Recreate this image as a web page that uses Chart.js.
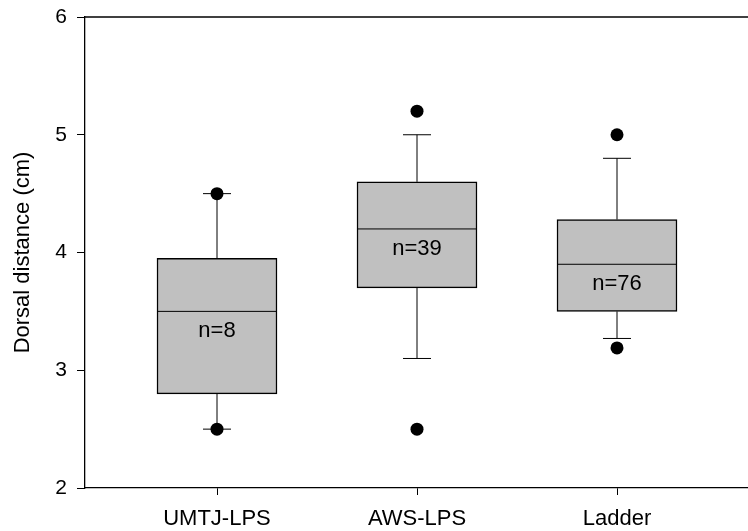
<!doctype html>
<html>

<head>
    <title>Dorsal distance</title>
    <meta http-equiv="Content-Type" content="text/html;charset=UTF-8">
    <script src="https://cdn.jsdelivr.net/npm/chart.js@4/dist/chart.umd.min.js"></script>
    <style>
        body { margin: 0; background: #fff; overflow: hidden; }
        canvas { display: block; }
    </style>
</head>

<body>
    <canvas id="grafico" width="748" height="531"></canvas>
</body>
<script>

    // valores
    var categorias = ['UMTJ-LPS', 'AWS-LPS', 'Ladder'];
    var bigodeInf = [2.5, 3.1, 3.27];
    var q1 = [2.8, 3.7, 3.5];
    var mediana = [3.5, 4.2, 3.9];
    var q3 = [3.95, 4.6, 4.28];
    var bigodeSup = [4.5, 5.0, 4.8];
    var outliers = [[2.5, 4.5], [2.5, 5.2], [3.19, 5.0]];
    var contagens = [8, 39, 76];
    var ticksY = [2, 3, 4, 5, 6];

    Chart.defaults.font.family = "'Liberation Sans', Arial, sans-serif";
    Chart.defaults.font.size = 21;
    Chart.defaults.color = '#000';

    var caixas = categorias.map(function (c, i) {
        return { x: i + 1, y: [q1[i], q3[i]] };
    });

    var pontos = [];
    outliers.forEach(function (lista, i) {
        lista.forEach(function (v) { pontos.push({ x: i + 1, y: v }); });
    });

    var desenhaBox = {
        id: 'desenhaBox',
        afterDatasetDraw: function (chart, args) {
            if (args.index !== 0) return;
            var ctx = chart.ctx;
            var x = chart.scales.x;
            var y = chart.scales.y;
            var meta = chart.getDatasetMeta(0);
            ctx.save();
            ctx.strokeStyle = '#000';
            ctx.lineWidth = 1;
            categorias.forEach(function (c, i) {
                var px = x.getPixelForValue(i + 1);
                var bar = meta.data[i];
                var meio = bar.width / 2;
                var cap = 14;
                ctx.beginPath();
                // mediana
                ctx.moveTo(px - meio, y.getPixelForValue(mediana[i]));
                ctx.lineTo(px + meio, y.getPixelForValue(mediana[i]));
                // bigodes
                ctx.moveTo(px, y.getPixelForValue(q3[i]));
                ctx.lineTo(px, y.getPixelForValue(bigodeSup[i]));
                ctx.moveTo(px, y.getPixelForValue(q1[i]));
                ctx.lineTo(px, y.getPixelForValue(bigodeInf[i]));
                ctx.moveTo(px - cap, y.getPixelForValue(bigodeSup[i]));
                ctx.lineTo(px + cap, y.getPixelForValue(bigodeSup[i]));
                ctx.moveTo(px - cap, y.getPixelForValue(bigodeInf[i]));
                ctx.lineTo(px + cap, y.getPixelForValue(bigodeInf[i]));
                ctx.stroke();

                ctx.fillStyle = '#000';
                ctx.font = "22px 'Liberation Sans', Arial, sans-serif";
                ctx.textAlign = 'center';
                ctx.textBaseline = 'middle';
                ctx.fillText('n=' + contagens[i], px, y.getPixelForValue(mediana[i]) + 20);
            });
            ctx.restore();
        },
        afterDraw: function (chart) {
            var ctx = chart.ctx;
            var a = chart.chartArea;
            ctx.save();
            ctx.strokeStyle = '#000';
            ctx.lineWidth = 1.3;
            ctx.beginPath();
            ctx.moveTo(a.left, a.top);
            ctx.lineTo(a.right, a.top);
            ctx.stroke();
            ctx.restore();
        }
    };

    var grafico = new Chart(document.getElementById('grafico'), {
        type: 'bar',
        data: {
            datasets: [
                {
                    type: 'bar',
                    data: caixas,
                    backgroundColor: '#c0c0c0',
                    borderColor: '#000',
                    borderWidth: 1.5,
                    borderSkipped: false,
                    barThickness: 120,
                    order: 1
                },
                {
                    type: 'scatter',
                    data: pontos,
                    pointRadius: 6.5,
                    pointBackgroundColor: '#000',
                    pointBorderWidth: 0,
                    order: 0
                }
            ]
        },
        options: {
            responsive: false,
            animation: false,
            layout: { autoPadding: false, padding: { top: 17, right: 0, bottom: 0, left: 0 } },
            plugins: {
                legend: { display: false },
                tooltip: { enabled: false }
            },
            scales: {
                x: {
                    type: 'linear',
                    min: 0.34,
                    max: 3.655,
                    offset: false,
                    afterFit: function (s) {
                        s.height = 43;
                        s.paddingLeft = 0;
                        s.paddingRight = 0;
                    },
                    afterBuildTicks: function (s) {
                        s.ticks = categorias.map(function (c, i) { return { value: i + 1 }; });
                    },
                    ticks: {
                        padding: 11,
                        autoSkip: false,
                        maxRotation: 0,
                        font: { size: 22 },
                        callback: function (v) { return categorias[v - 1]; }
                    },
                    grid: { display: true, drawOnChartArea: false, offset: false, color: '#000', tickLength: 7 },
                    border: { display: true, color: '#000', width: 1.3 }
                },
                y: {
                    min: 2,
                    max: 6,
                    afterFit: function (s) {
                        s.width = 85;
                        s.paddingTop = 0;
                        s.paddingBottom = 0;
                    },
                    afterBuildTicks: function (s) {
                        s.ticks = ticksY.map(function (v) { return { value: v }; });
                    },
                    ticks: { padding: 10 },
                    grid: { drawOnChartArea: false, color: '#000', tickLength: 8 },
                    border: { display: true, color: '#000', width: 1.3 },
                    title: {
                        display: true,
                        text: 'Dorsal distance (cm)',
                        font: { size: 22 },
                        padding: { top: 10, bottom: 0 }
                    }
                }
            }
        },
        plugins: [desenhaBox]
    });
</script>

</html>
